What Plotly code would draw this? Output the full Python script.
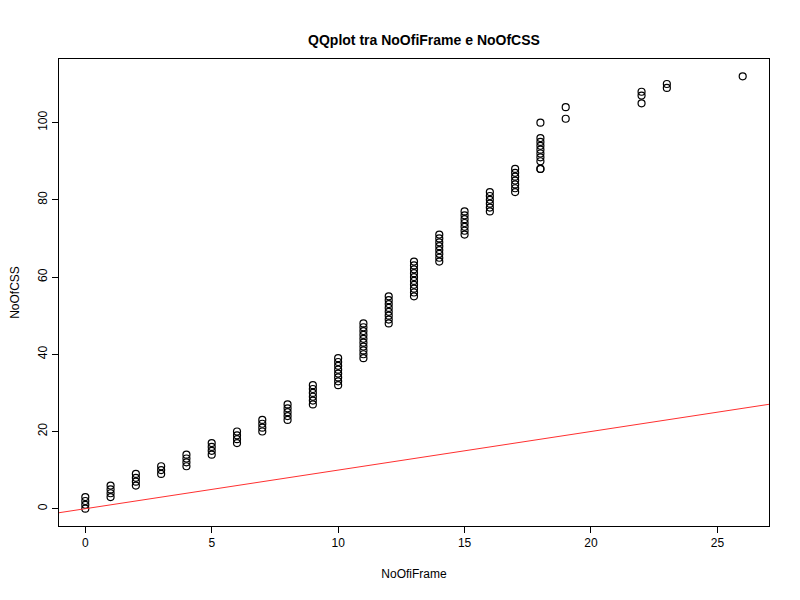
import plotly.graph_objects as go

# valori (quantili ordinati)
no_of_iframe = ([0]*4 + [1]*4 + [2]*4 + [3]*3 + [4]*4 + [5]*4 + [6]*4 + [7]*4 + [8]*5 + [9]*6
                + [10]*8 + [11]*10 + [12]*8 + [13]*10 + [14]*8 + [15]*7 + [16]*6 + [17]*7
                + [18]*10 + [19]*2 + [22]*3 + [23]*2 + [26])
no_of_css = ([0, 1, 2, 3] + [3, 4, 5, 6] + [6, 7, 8, 9] + [9, 10, 11] + [11, 12, 13, 14]
             + [14, 15, 16, 17] + [17, 18, 19, 20] + [20, 21, 22, 23] + [23, 24, 25, 26, 27]
             + [27, 28, 29, 30, 31, 32] + [32, 33, 34, 35, 36, 37, 38, 39]
             + [39, 40, 41, 42, 43, 44, 45, 46, 47, 48] + [48, 49, 50, 51, 52, 53, 54, 55]
             + [55, 56, 57, 58, 59, 60, 61, 62, 63, 64] + [64, 65, 66, 67, 68, 69, 70, 71]
             + [71, 72, 73, 74, 75, 76, 77] + [77, 78, 79, 80, 81, 82]
             + [82, 83, 84, 85, 86, 87, 88] + [88, 88, 90, 91, 92, 93, 94, 95, 96, 100]
             + [101, 104] + [105, 107, 108] + [109, 110] + [112])

line_x = [-1.04, 27.04]

fig = go.Figure()
fig.add_trace(go.Scatter(x=no_of_iframe, y=no_of_css, mode="markers",
                         marker=dict(symbol="circle-open", size=7, color="black",
                                     line=dict(width=1.2))))
fig.add_trace(go.Scatter(x=line_x, y=line_x, mode="lines",
                         line=dict(color="#ff3030", width=1)))

ax = dict(showgrid=False, zeroline=False, showline=True, mirror=True, linecolor="black",
          ticks="outside", ticklen=6, tickcolor="black", automargin=False,
          tickfont=dict(family="Liberation Sans", size=12, color="black"))
fig.update_xaxes(ax, range=[-1.04, 27.04], tickvals=[0, 5, 10, 15, 20, 25],
                 title=dict(text="NoOfiFrame", standoff=20,
                            font=dict(family="Liberation Sans", size=12, color="black")))
fig.update_yaxes(ax, range=[-4.48, 116.48], tickvals=[0, 20, 40, 60, 80, 100], tickangle=-90,
                 title=dict(text="NoOfCSS", standoff=14,
                            font=dict(family="Liberation Sans", size=12, color="black")))
fig.update_layout(
    width=800, height=600, showlegend=False,
    plot_bgcolor="white", paper_bgcolor="white",
    margin=dict(l=51, r=39, t=51, b=82),
    title=dict(text="<b>QQplot tra NoOfiFrame e NoOfCSS</b>", x=0.52, y=0.955,
               font=dict(family="Liberation Sans", size=14, color="black")),
)
fig.write_html("out.html")
